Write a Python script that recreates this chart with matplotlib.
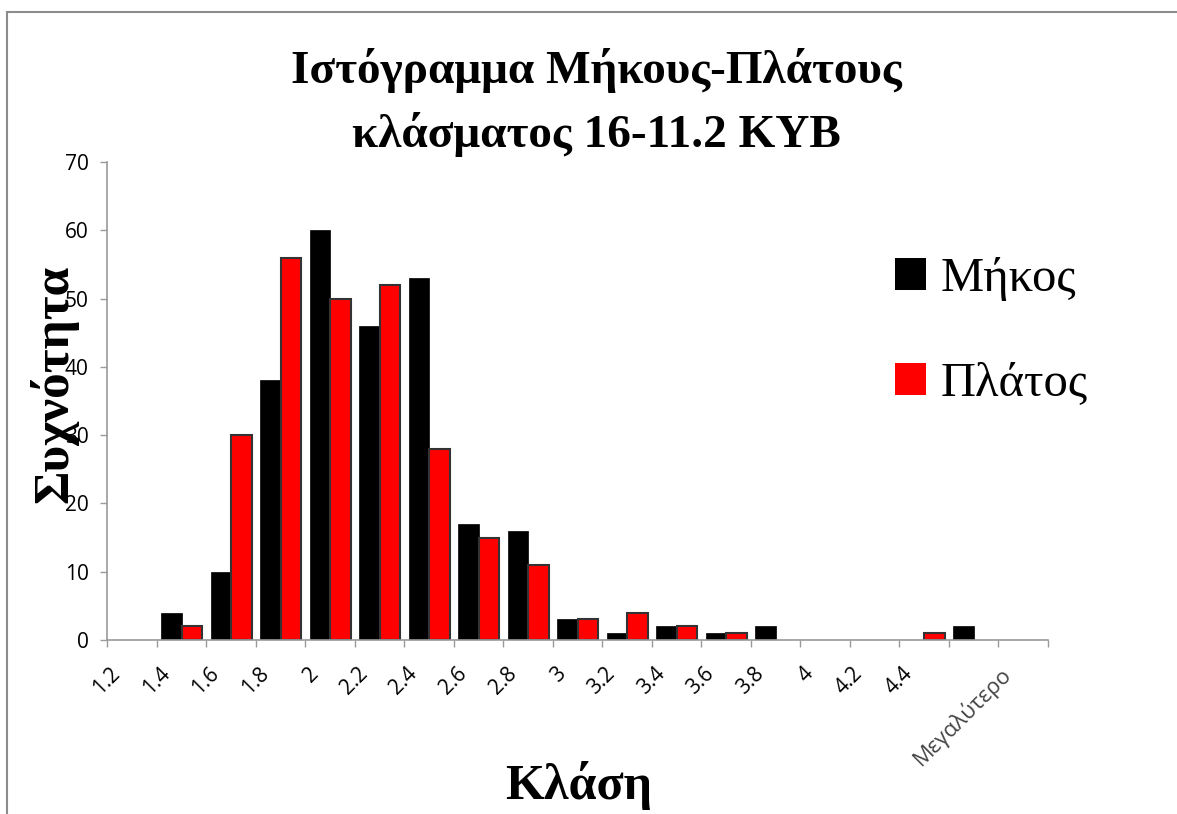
import matplotlib.pyplot as plt
from matplotlib.patches import Rectangle
from matplotlib.transforms import ScaledTranslation

# histogram bins (upper edges) and counts for the two measured dimensions
classes = ["1.2", "1.4", "1.6", "1.8", "2", "2.2", "2.4", "2.6", "2.8", "3",
           "3.2", "3.4", "3.6", "3.8", "4", "4.2", "4.4", "", "Μεγαλύτερο"]
mikos = [0, 4, 10, 38, 60, 46, 53, 17, 16, 3, 1, 2, 1, 2, 0, 0, 0, 2, 0]
platos = [0, 2, 30, 56, 50, 52, 28, 15, 11, 3, 4, 2, 1, 0, 0, 0, 1, 0, 0]

serif = "Liberation Serif"
sans = "Open Sans"
axis_grey = "#9a9a9a"

fig = plt.figure(figsize=(11.77, 8.14), dpi=100)
ax = fig.add_axes([0.0913, 0.2138, 0.7991, 0.5872])

x = list(range(len(classes)))
w = 0.41
# empty bins get no outline so nothing is drawn on the baseline
b1 = ax.bar([i - w / 2 for i in x], mikos, width=w, color="black",
            edgecolor="black", linewidth=[0.5 if v else 0 for v in mikos],
            label="Μήκος")
b2 = ax.bar([i + w / 2 for i in x], platos, width=w, color="#ff0000",
            edgecolor="#333333", linewidth=[1.5 if v else 0 for v in platos],
            label="Πλάτος")

ax.set_xlim(-0.5, len(classes) - 0.5)
ax.set_ylim(0, 70)
ax.set_yticks(range(0, 71, 10))

# category labels sit at bar centres, tick marks sit on the bin boundaries
ax.set_xticks(x)
ax.set_xticklabels(classes, rotation=45, ha="right", va="center",
                   rotation_mode="anchor", fontsize=15, family=sans)
ax.set_xticks([i - 0.5 for i in range(len(classes) + 1)], minor=True)
ax.tick_params(axis="x", which="major", length=0, pad=22)
ax.tick_params(axis="x", which="minor", length=5, width=1, color=axis_grey)
ax.tick_params(axis="y", length=5, width=1, color=axis_grey, pad=8.6,
               labelsize=15)
for t in ax.get_yticklabels():
    t.set_family(sans)
shift = ScaledTranslation(-0.15, 0, fig.dpi_scale_trans)
for t in ax.get_xticklabels():
    t.set_transform(t.get_transform() + shift)
ax.get_xticklabels()[-1].set_color("#444444")
ax.get_xticklabels()[-1].set_fontsize(16)

for side in ["top", "right"]:
    ax.spines[side].set_visible(False)
for side in ["left", "bottom"]:
    ax.spines[side].set_color(axis_grey)
    ax.spines[side].set_linewidth(1.2)

fig.text(0.507, 0.874, "Ιστόγραμμα Μήκους-Πλάτους\nκλάσματος 16-11.2 ΚΥΒ",
         ha="center", va="center", family=serif, weight="bold", fontsize=34,
         linespacing=1.55)
fig.text(0.046, 0.528, "Συχνότητα", rotation=90, ha="center", va="center",
         family=serif, weight="bold", fontsize=37)
fig.text(0.492, 0.035, "Κλάση", ha="center", va="center", family=serif,
         weight="bold", fontsize=36)

ax.legend(handles=[b1, b2], loc="upper left", bbox_to_anchor=(0.76, 0.684),
          bbox_transform=fig.transFigure, frameon=False,
          prop={"family": serif, "size": 35}, handlelength=0.65,
          handleheight=0.65, handletextpad=0.3, labelspacing=1.25,
          borderpad=0, borderaxespad=0)

# chart frame
fig.patches.append(Rectangle((7 / 1177, -0.5), 2, 0.5 + 1 - 11.5 / 814,
                             transform=fig.transFigure, fill=False,
                             edgecolor="#8c8c8c", linewidth=1.5))

fig.savefig("out.png", dpi=100)
